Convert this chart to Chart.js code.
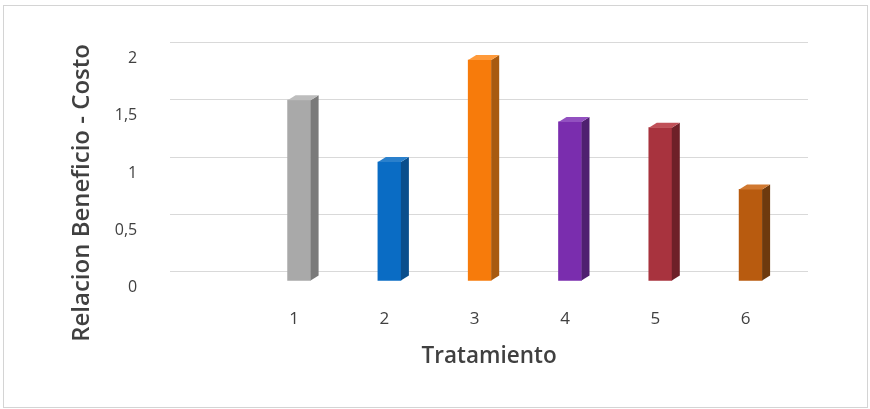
<!DOCTYPE html>
<html>
<head>
<meta charset="utf-8">
<script src="https://cdn.jsdelivr.net/npm/chart.js@4"></script>
<style>
  body { margin: 0; background: #fff; }
  #frame { position: absolute; left: 3px; top: 5px; width: 863px; height: 401px; border: 1px solid #d4d4d4; }
  #wrap { position: absolute; left: 0; top: 0; width: 870px; height: 409px; }
</style>
</head>
<body>
<div id="frame"></div>
<div id="wrap"><canvas id="canvas"></canvas></div>
<script>
const categories = ["1", "2", "3", "4", "5", "6"];
const values = [1.58, 1.04, 1.93, 1.39, 1.34, 0.80];
const yTicks = [0, 0.5, 1, 1.5, 2];
const frontColors = ["#a9a9a9", "#0a6cc4", "#f77b0b", "#7a2dae", "#a8333e", "#b85b0f"];
const sideColors = ["#7a7a7a", "#0a4e8c", "#a85a10", "#4f2070", "#6e2028", "#6e3a0e"];
const topColors = ["#bdbdbd", "#2a80cc", "#ff9a3a", "#9250c0", "#c05058", "#d07830"];

// fake 3d: front face pushed down/left from the scale position, side and cap drawn behind
const FRONT_DX = 5, FRONT_DY = 9.5, DEPTH_X = 8, DEPTH_Y = 5;

const bar3d = {
  id: "bar3d",
  beforeDatasetsDraw(chart) {
    chart.ctx.save();
    chart.ctx.translate(FRONT_DX, FRONT_DY);
  },
  afterDatasetsDraw(chart) {
    const ctx = chart.ctx;
    chart.getDatasetMeta(0).data.forEach(function (bar, i) {
      const p = bar.getProps(["x", "y", "base", "width"], true);
      const l = p.x - p.width / 2, r = p.x + p.width / 2;
      ctx.fillStyle = sideColors[i];
      ctx.beginPath();
      ctx.moveTo(r, p.base);
      ctx.lineTo(r + DEPTH_X, p.base - DEPTH_Y);
      ctx.lineTo(r + DEPTH_X, p.y - DEPTH_Y);
      ctx.lineTo(r, p.y);
      ctx.closePath();
      ctx.fill();
      ctx.fillStyle = topColors[i];
      ctx.beginPath();
      ctx.moveTo(l, p.y);
      ctx.lineTo(l + DEPTH_X, p.y - DEPTH_Y);
      ctx.lineTo(r + DEPTH_X, p.y - DEPTH_Y);
      ctx.lineTo(r, p.y);
      ctx.closePath();
      ctx.fill();
    });
    ctx.restore();
  }
};

const points = categories.map(function (c, i) {
  return { x: i + 1, y: values[i] };
});

const ctx = document.getElementById("canvas").getContext("2d");
const myChart = new Chart(ctx, {
  type: "bar",
  data: {
    datasets: [
      {
        data: points,
        backgroundColor: frontColors,
        borderWidth: 0,
        barThickness: 23,
        clip: false,
      },
    ],
  },
  options: {
    responsive: true,
    maintainAspectRatio: false,
    animation: false,
    layout: { padding: { left: 0, right: 62, top: 0, bottom: 23 } },
    plugins: {
      legend: { display: false },
      tooltip: { enabled: false },
      title: {
        display: true,
        position: "left",
        text: "Relacion Beneficio - Costo",
        color: "#404040",
        font: { family: "Open Sans", size: 24, weight: "600" },
        padding: { top: 67.6, bottom: 4 },
      },
    },
    scales: {
      x: {
        type: "linear",
        offset: false,
        min: -0.372,
        max: 6.691,
        grid: { display: false },
        border: { display: false },
        afterBuildTicks: function (scale) {
          scale.ticks = categories.map(function (c, i) { return { value: i + 1 }; });
        },
        afterFit: function (scale) { scale.height = 114.5; },
        ticks: {
          autoSkip: false,
          maxRotation: 0,
          padding: 29,
          color: "#404040",
          font: { family: "Open Sans", size: 17 },
          callback: function (v) { return categories[v - 1]; },
        },
        title: {
          display: true,
          text: "Tratamiento",
          color: "#404040",
          font: { family: "Open Sans", size: 22.5, weight: "600" },
          padding: { top: 4, bottom: 15.5 },
        },
      },
      y: {
        min: 0,
        max: 2,
        afterBuildTicks: function (scale) {
          scale.ticks = yTicks.map(function (v) { return { value: v }; });
        },
        afterFit: function (scale) { scale.width = 165 - 95.2; },
        grid: { color: "#d9d9d9", drawTicks: false },
        border: { display: false },
        ticks: {
          padding: 33,
          labelOffset: 16,
          color: "#404040",
          font: { family: "Open Sans", size: 16 },
          callback: function (v) { return String(v).replace(".", ","); },
        },
      },
    },
  },
  plugins: [bar3d],
});
</script>
</body>
</html>
